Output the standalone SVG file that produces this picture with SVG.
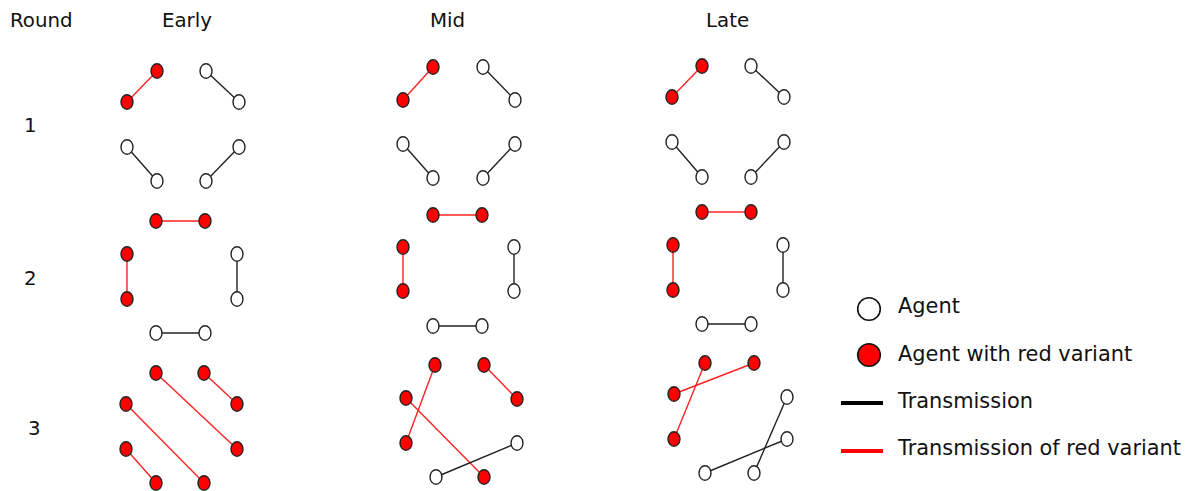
<svg xmlns="http://www.w3.org/2000/svg" width="1194" height="491" viewBox="0 0 1194 491">
<style>
.t{font-family:"DejaVu Sans","Liberation Sans",sans-serif;font-size:19.8px;fill:#111}
.lg{font-family:"DejaVu Sans","Liberation Sans",sans-serif;font-size:20.9px;fill:#111}
.w{fill:#fff;stroke:#222;stroke-width:1.4}
.r{fill:#f00;stroke:#222;stroke-width:1.4}
.k{stroke:#222;stroke-width:1.4;fill:none}
.e{stroke:#f22;stroke-width:1.4;fill:none}
</style>
<defs>
<ellipse id="n" cx="0" cy="0" rx="6" ry="7.2"/>
</defs>
<rect width="1194" height="491" fill="#fff"/>
<g id="labels">
<text class="t" x="10" y="27">Round</text>
<text class="t" x="162" y="27">Early</text>
<text class="t" x="430" y="27">Mid</text>
<text class="t" x="706" y="27">Late</text>
<text class="t" x="24" y="132">1</text>
<text class="t" x="24" y="285">2</text>
<text class="t" x="28" y="435">3</text>
</g>
<g id="connectors">
<line class="e" x1="157" y1="71" x2="127" y2="102"/>
<line class="k" x1="206" y1="71" x2="239" y2="102"/>
<line class="k" x1="127" y1="147" x2="157" y2="181"/>
<line class="k" x1="206" y1="181" x2="239" y2="147"/>
<line class="e" x1="156" y1="221" x2="205" y2="221"/>
<line class="e" x1="127" y1="254" x2="127" y2="299"/>
<line class="k" x1="237" y1="254" x2="237" y2="299"/>
<line class="k" x1="156" y1="333" x2="205" y2="333"/>
<line class="e" x1="156" y1="373" x2="237" y2="449"/>
<line class="e" x1="204" y1="373" x2="237" y2="404"/>
<line class="e" x1="126" y1="404" x2="204" y2="483"/>
<line class="e" x1="126" y1="449" x2="156" y2="483"/>
<line class="e" x1="433" y1="67" x2="403" y2="100"/>
<line class="k" x1="483" y1="67" x2="515" y2="100"/>
<line class="k" x1="403" y1="144" x2="433" y2="178"/>
<line class="k" x1="483" y1="178" x2="515" y2="144"/>
<line class="e" x1="433" y1="215" x2="482" y2="215"/>
<line class="e" x1="403" y1="247" x2="403" y2="291"/>
<line class="k" x1="514" y1="247" x2="514" y2="291"/>
<line class="k" x1="433" y1="326" x2="482" y2="326"/>
<line class="e" x1="435" y1="365" x2="406" y2="443"/>
<line class="e" x1="484" y1="365" x2="517" y2="399"/>
<line class="e" x1="406" y1="398" x2="484" y2="477"/>
<line class="k" x1="436" y1="477" x2="517" y2="443"/>
<line class="e" x1="702" y1="66" x2="672" y2="97"/>
<line class="k" x1="751" y1="66" x2="784" y2="97"/>
<line class="k" x1="672" y1="142" x2="702" y2="177"/>
<line class="k" x1="751" y1="177" x2="784" y2="142"/>
<line class="e" x1="702" y1="212" x2="751" y2="212"/>
<line class="e" x1="673" y1="245" x2="673" y2="290"/>
<line class="k" x1="783" y1="245" x2="783" y2="290"/>
<line class="k" x1="702" y1="324" x2="751" y2="324"/>
<line class="e" x1="705" y1="363" x2="674" y2="439"/>
<line class="e" x1="754" y1="363" x2="674" y2="394"/>
<line class="k" x1="787" y1="397" x2="754" y2="473"/>
<line class="k" x1="787" y1="439" x2="705" y2="473"/>
</g>
<g id="e1a"><use href="#n" class="r" x="157" y="71"/></g>
<g id="e1b"><use href="#n" class="r" x="127" y="102"/></g>
<g id="e1c"><use href="#n" class="w" x="206" y="71"/></g>
<g id="e1d"><use href="#n" class="w" x="239" y="102"/></g>
<g id="e1e"><use href="#n" class="w" x="127" y="147"/></g>
<g id="e1f"><use href="#n" class="w" x="157" y="181"/></g>
<g id="e1g"><use href="#n" class="w" x="206" y="181"/></g>
<g id="e1h"><use href="#n" class="w" x="239" y="147"/></g>
<g id="e2a"><use href="#n" class="r" x="156" y="221"/></g>
<g id="e2b"><use href="#n" class="r" x="205" y="221"/></g>
<g id="e2c"><use href="#n" class="r" x="127" y="254"/></g>
<g id="e2d"><use href="#n" class="r" x="127" y="299"/></g>
<g id="e2e"><use href="#n" class="w" x="237" y="254"/></g>
<g id="e2f"><use href="#n" class="w" x="237" y="299"/></g>
<g id="e2g"><use href="#n" class="w" x="156" y="333"/></g>
<g id="e2h"><use href="#n" class="w" x="205" y="333"/></g>
<g id="e3a"><use href="#n" class="r" x="156" y="373"/></g>
<g id="e3b"><use href="#n" class="r" x="204" y="373"/></g>
<g id="e3c"><use href="#n" class="r" x="126" y="404"/></g>
<g id="e3d"><use href="#n" class="r" x="237" y="404"/></g>
<g id="e3e"><use href="#n" class="r" x="126" y="449"/></g>
<g id="e3f"><use href="#n" class="r" x="237" y="449"/></g>
<g id="e3g"><use href="#n" class="r" x="156" y="483"/></g>
<g id="e3h"><use href="#n" class="r" x="204" y="483"/></g>
<g id="m1a"><use href="#n" class="r" x="433" y="67"/></g>
<g id="m1b"><use href="#n" class="r" x="403" y="100"/></g>
<g id="m1c"><use href="#n" class="w" x="483" y="67"/></g>
<g id="m1d"><use href="#n" class="w" x="515" y="100"/></g>
<g id="m1e"><use href="#n" class="w" x="403" y="144"/></g>
<g id="m1f"><use href="#n" class="w" x="433" y="178"/></g>
<g id="m1g"><use href="#n" class="w" x="483" y="178"/></g>
<g id="m1h"><use href="#n" class="w" x="515" y="144"/></g>
<g id="m2a"><use href="#n" class="r" x="433" y="215"/></g>
<g id="m2b"><use href="#n" class="r" x="482" y="215"/></g>
<g id="m2c"><use href="#n" class="r" x="403" y="247"/></g>
<g id="m2d"><use href="#n" class="r" x="403" y="291"/></g>
<g id="m2e"><use href="#n" class="w" x="514" y="247"/></g>
<g id="m2f"><use href="#n" class="w" x="514" y="291"/></g>
<g id="m2g"><use href="#n" class="w" x="433" y="326"/></g>
<g id="m2h"><use href="#n" class="w" x="482" y="326"/></g>
<g id="m3a"><use href="#n" class="r" x="435" y="365"/></g>
<g id="m3b"><use href="#n" class="r" x="484" y="365"/></g>
<g id="m3c"><use href="#n" class="r" x="406" y="398"/></g>
<g id="m3d"><use href="#n" class="r" x="517" y="399"/></g>
<g id="m3e"><use href="#n" class="r" x="406" y="443"/></g>
<g id="m3f"><use href="#n" class="w" x="517" y="443"/></g>
<g id="m3g"><use href="#n" class="w" x="436" y="477"/></g>
<g id="m3h"><use href="#n" class="r" x="484" y="477"/></g>
<g id="l1a"><use href="#n" class="r" x="702" y="66"/></g>
<g id="l1b"><use href="#n" class="r" x="672" y="97"/></g>
<g id="l1c"><use href="#n" class="w" x="751" y="66"/></g>
<g id="l1d"><use href="#n" class="w" x="784" y="97"/></g>
<g id="l1e"><use href="#n" class="w" x="672" y="142"/></g>
<g id="l1f"><use href="#n" class="w" x="702" y="177"/></g>
<g id="l1g"><use href="#n" class="w" x="751" y="177"/></g>
<g id="l1h"><use href="#n" class="w" x="784" y="142"/></g>
<g id="l2a"><use href="#n" class="r" x="702" y="212"/></g>
<g id="l2b"><use href="#n" class="r" x="751" y="212"/></g>
<g id="l2c"><use href="#n" class="r" x="673" y="245"/></g>
<g id="l2d"><use href="#n" class="r" x="673" y="290"/></g>
<g id="l2e"><use href="#n" class="w" x="783" y="245"/></g>
<g id="l2f"><use href="#n" class="w" x="783" y="290"/></g>
<g id="l2g"><use href="#n" class="w" x="702" y="324"/></g>
<g id="l2h"><use href="#n" class="w" x="751" y="324"/></g>
<g id="l3a"><use href="#n" class="r" x="705" y="363"/></g>
<g id="l3b"><use href="#n" class="r" x="754" y="363"/></g>
<g id="l3c"><use href="#n" class="r" x="674" y="394"/></g>
<g id="l3d"><use href="#n" class="w" x="787" y="397"/></g>
<g id="l3e"><use href="#n" class="r" x="674" y="439"/></g>
<g id="l3f"><use href="#n" class="w" x="787" y="439"/></g>
<g id="l3g"><use href="#n" class="w" x="705" y="473"/></g>
<g id="l3h"><use href="#n" class="w" x="754" y="473"/></g>
<g id="legend">
<circle cx="869" cy="309" r="11.3" fill="#fff" stroke="#111" stroke-width="1.6"/>
<text class="lg" x="898" y="313">Agent</text>
<circle cx="869" cy="355" r="11.3" fill="#f00" stroke="#111" stroke-width="1.6"/>
<text class="lg" x="898" y="361">Agent with red variant</text>
<line x1="841" y1="403" x2="883" y2="403" stroke="#000" stroke-width="4"/>
<text class="lg" x="898" y="408">Transmission</text>
<line x1="841" y1="451" x2="883" y2="451" stroke="#f00" stroke-width="4"/>
<text class="lg" x="898" y="455">Transmission of red variant</text>
</g>
</svg>
